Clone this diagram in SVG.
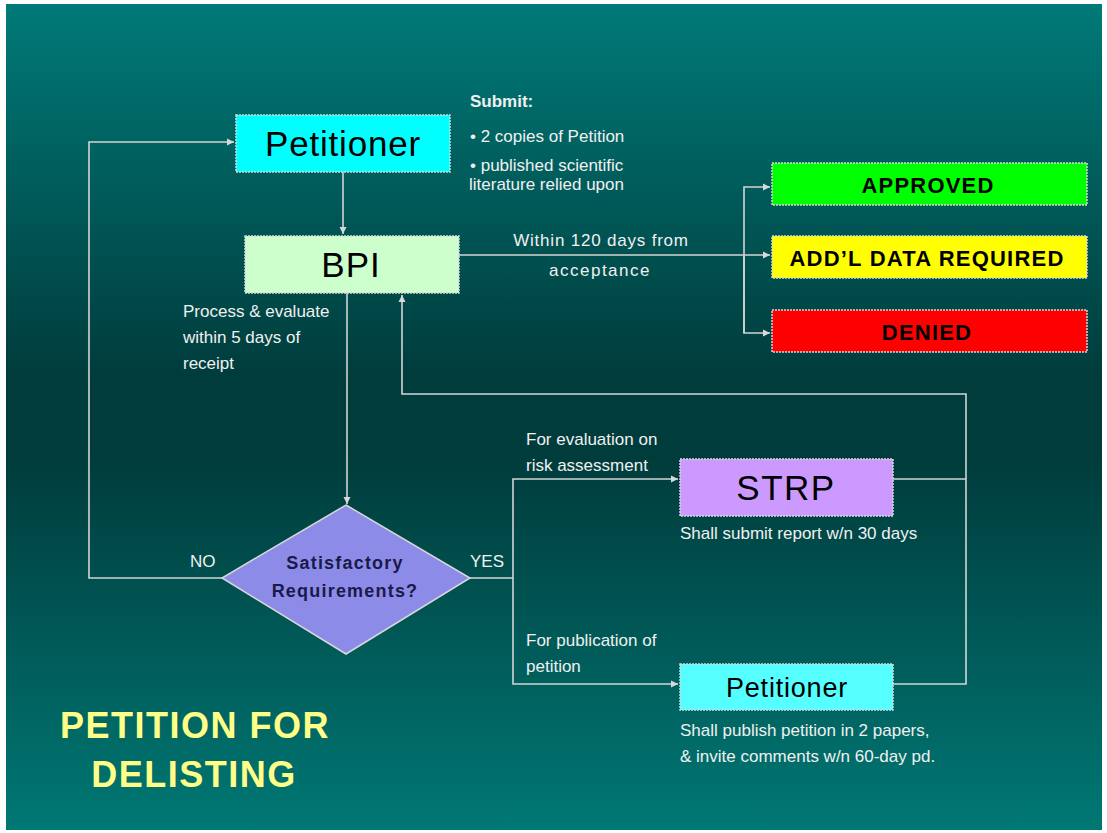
<svg xmlns="http://www.w3.org/2000/svg" width="1107" height="833" viewBox="0 0 1107 833">
<defs>
<linearGradient id="bg" x1="0" y1="0" x2="0" y2="1">
<stop offset="0" stop-color="#007a78"/>
<stop offset="0.45" stop-color="#003c3c"/>
<stop offset="0.55" stop-color="#003c3c"/>
<stop offset="1" stop-color="#007874"/>
</linearGradient>
<marker id="arr" markerWidth="8" markerHeight="8" refX="7" refY="4" orient="auto" markerUnits="userSpaceOnUse">
<path d="M0,0.5 L7,4 L0,7.5 z" fill="#d8d8d8"/>
</marker>
<style>
.ln{fill:none;stroke:#d4d4d4;stroke-width:1.6}
.box{stroke:#d8d8d8;stroke-width:1.5;stroke-dasharray:2 1}
.lbl{font-family:"Liberation Sans",Arial,sans-serif;fill:#f0f0f0;font-size:17px}
.big{font-family:"Liberation Sans",Arial,sans-serif;fill:#000;text-anchor:middle}
.res{font-family:"Liberation Sans",Arial,sans-serif;fill:#000;font-weight:bold;font-size:22px;text-anchor:middle;letter-spacing:1.2px}
.dec{font-family:"Liberation Sans",Arial,sans-serif;font-weight:bold;font-size:18px;fill:#1a1a4a;text-anchor:middle;letter-spacing:1.2px}
.ttl{font-family:"Liberation Sans",Arial,sans-serif;font-weight:bold;font-size:36px;fill:#ffff88;text-anchor:middle;letter-spacing:1.5px}
</style>
</defs>
<rect x="0" y="0" width="1107" height="833" fill="#ffffff"/>
<rect x="6" y="4" width="1096" height="826" fill="url(#bg)"/>

<g id="connectors">
<line class="ln" x1="343" y1="172" x2="343" y2="234" marker-end="url(#arr)"/>
<line class="ln" x1="459" y1="255" x2="770" y2="255" marker-end="url(#arr)"/>
<polyline class="ln" points="744,333 744,187 770,187" marker-end="url(#arr)"/>
<polyline class="ln" points="744,255 744,333 770,333" marker-end="url(#arr)"/>
<line class="ln" x1="347" y1="293" x2="347" y2="504" marker-end="url(#arr)"/>
<polyline class="ln" points="222,578 89,578 89,142 234,142" marker-end="url(#arr)"/>
<polyline class="ln" points="470,578 513,578"/>
<polyline class="ln" points="513,578 513,479 678,479" marker-end="url(#arr)"/>
<polyline class="ln" points="513,578 513,684 678,684" marker-end="url(#arr)"/>
<polyline class="ln" points="893,479 966,479"/>
<polyline class="ln" points="893,684 966,684 966,394 402,394 402,295" marker-end="url(#arr)"/>
</g>

<g id="petitioner-top">
<rect class="box" x="236" y="115" width="214" height="57" fill="#00ffff"/>
<text class="big" x="343" y="156" font-size="35" letter-spacing="0.8">Petitioner</text>
</g>
<g id="submit-note">
<text class="lbl" x="470" y="107" font-weight="bold" font-size="16">Submit:</text>
<text class="lbl" x="470" y="142" font-size="16.5">• 2 copies of Petition</text>
<text class="lbl" x="470" y="171" font-size="16.5">• published scientific</text>
<text class="lbl" x="469" y="190" font-size="16.5">literature relied upon</text>
</g>
<g id="bpi">
<rect class="box" x="245" y="236" width="214" height="57" fill="#ccffcc"/>
<text class="big" x="351" y="277" font-size="35" letter-spacing="1">BPI</text>
</g>
<g id="bpi-notes">
<text class="lbl" x="601" y="246" text-anchor="middle" font-size="19" letter-spacing="0.8">Within 120 days from</text>
<text class="lbl" x="600" y="276" text-anchor="middle" font-size="19" letter-spacing="1.5">acceptance</text>
<text class="lbl" x="183" y="317">Process &amp; evaluate</text>
<text class="lbl" x="183" y="343">within 5 days of</text>
<text class="lbl" x="183" y="369">receipt</text>
</g>
<g id="approved">
<rect class="box" x="772" y="163" width="315" height="42" fill="#00ff00"/>
<text class="res" x="928" y="193">APPROVED</text>
</g>
<g id="addl">
<rect class="box" x="772" y="236" width="315" height="42" fill="#ffff00"/>
<text class="res" x="927" y="266">ADD’L DATA REQUIRED</text>
</g>
<g id="denied">
<rect class="box" x="772" y="310" width="315" height="42" fill="#ff0000"/>
<text class="res" x="927" y="340">DENIED</text>
</g>
<g id="decision">
<polygon points="346,505 470,578 346,654 222,578" fill="#8c8ce8" stroke="#d8d8d8" stroke-width="1.5"/>
<text class="dec" x="345" y="569">Satisfactory</text>
<text class="dec" x="345" y="597">Requirements?</text>
<text class="lbl" x="190" y="567">NO</text>
<text class="lbl" x="470" y="567">YES</text>
</g>
<g id="strp">
<rect class="box" x="680" y="459" width="213" height="57" fill="#cc99ff"/>
<text class="big" x="786" y="500" font-size="35" letter-spacing="1.5">STRP</text>
</g>
<g id="strp-notes">
<text class="lbl" x="526" y="445">For evaluation on</text>
<text class="lbl" x="526" y="471">risk assessment</text>
<text class="lbl" x="680" y="539">Shall submit report w/n 30 days</text>
</g>
<g id="petitioner-bottom">
<rect class="box" x="680" y="664" width="213" height="46" fill="#55ffff"/>
<text class="big" x="787" y="697" font-size="27" letter-spacing="0.8">Petitioner</text>
</g>
<g id="petitioner-bottom-notes">
<text class="lbl" x="526" y="646">For publication of</text>
<text class="lbl" x="526" y="672">petition</text>
<text class="lbl" x="680" y="736">Shall publish petition in 2 papers,</text>
<text class="lbl" x="680" y="762">&amp; invite comments w/n 60-day pd.</text>
</g>
<g id="title">
<text class="ttl" x="195" y="738">PETITION FOR</text>
<text class="ttl" x="194" y="787">DELISTING</text>
</g>
</svg>
